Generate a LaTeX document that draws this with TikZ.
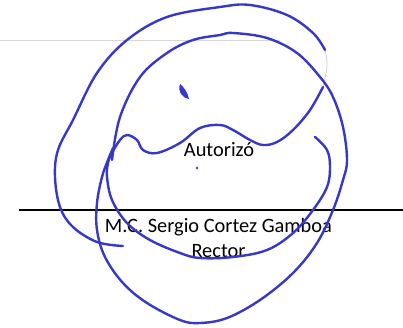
\documentclass[tikz,border=0pt]{standalone}
\usepackage{fontspec}
\setmainfont{Carlito}
\usepackage{tikz}
\definecolor{penblue}{RGB}{55,55,200}
\definecolor{faintgray}{RGB}{215,215,215}

\begin{document}
\begin{tikzpicture}[
		x=0.75pt, y=-0.75pt,
		every node/.style={font=\fontsize{15.3}{18}\selectfont, inner sep=0pt, anchor=base},
		ink/.style={draw=penblue, line width=1.8pt, line cap=round, line join=round}
	]
  \useasboundingbox (0,0) rectangle (403,328);
  % faint ruling at the top
  \coordinate (g_l) at (0,40);
  \coordinate (g_r) at (280,40);
  \draw [faintgray, line width=0.6pt] (g_l) -- (g_r);
  % signature line
  \coordinate (s_l) at (19,210);
  \coordinate (s_r) at (403,210);
  \draw [black, line width=1.4pt] (s_l) -- (s_r);
  \node (autorizo) at (219,156) {Autorizó};
  \node (nombre) at (218.5,232) {M.C. Sergio Cortez Gamboa};
  \node (cargo) at (218.5,257) {Rector};
  % outer stroke
  \draw [ink] plot [smooth, tension=0.6] coordinates {
    (123,246) (97,242) (73,227) (60,207) (55,177) (58,150) (73,120) (97,73)
    (127,40) (167,17) (220,7) (250,5) (287,15) (313,33) (325,50)};
  \draw [penblue, opacity=0.25, line width=0.6pt] (325,50) .. controls (328,65) .. (323,87);
  % wave and lower loop
  \draw [ink] plot [smooth, tension=0.6] coordinates {
    (323,87) (310,110) (293,130) (277,142) (263,145) (250,140) (233,130) (220,125)
    (200,128) (180,143) (157,153) (143,150) (137,140) (127,135) (120,140) (112,153)
    (108,163) (107,177) (112,200) (127,223) (150,240) (180,253) (200,258) (233,257)
    (267,250) (293,233) (313,210) (327,187) (330,167) (327,150) (315,137)};
  % inner ellipse
  \draw [ink] plot [smooth, tension=0.6] coordinates {
    (112,160) (120,117) (140,77) (167,53) (193,40) (220,35) (233,33) (267,38)
    (297,53) (320,77) (333,97) (343,127) (347,160) (343,180) (333,210) (317,243)
    (293,273) (260,300) (227,318) (200,323) (180,320) (147,303) (123,283) (105,257)
    (97,230) (97,203) (102,177) (108,160) (113,148)};
  % pen marks
  \fill [penblue] (180,84) .. controls (177,92) and (184,99) .. (189,99)
    .. controls (188,93) and (184,87) .. (180,84);
  \fill [penblue] (197,168) circle (1.4);
\end{tikzpicture}
\end{document}
